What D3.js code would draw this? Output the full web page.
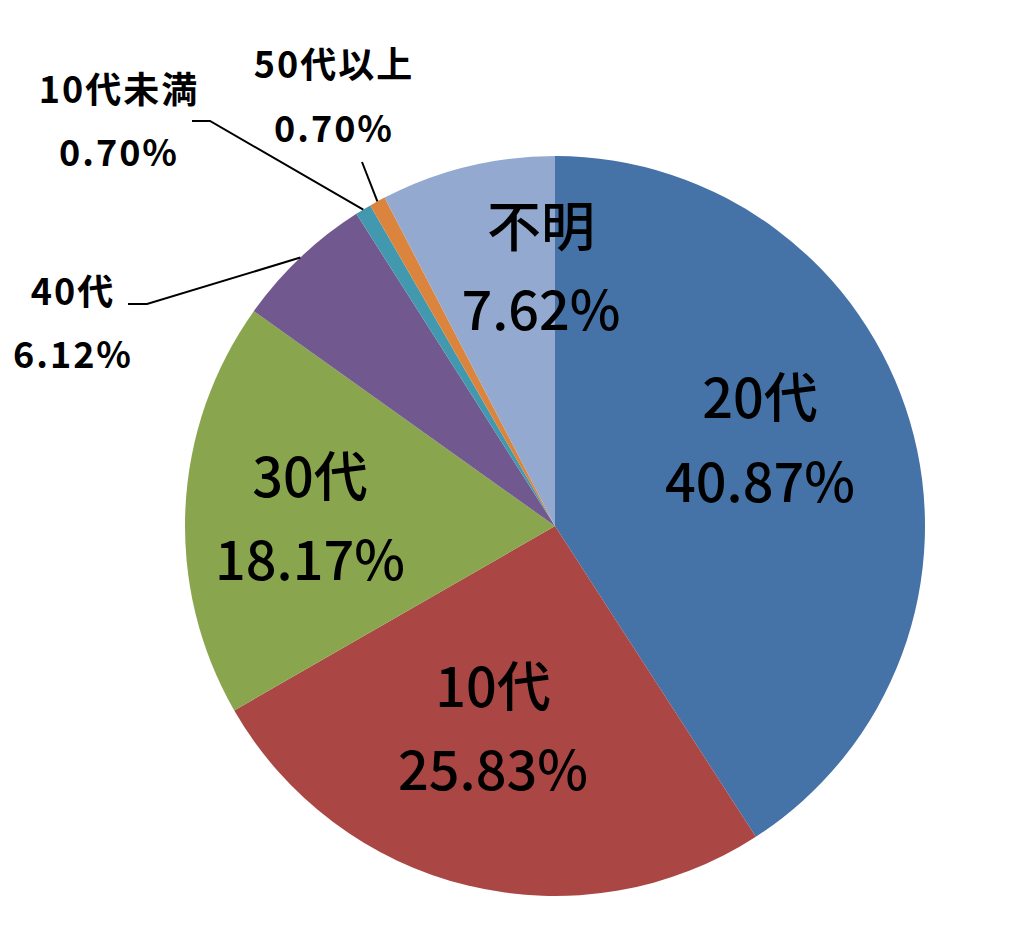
<!DOCTYPE html>
<html><head><meta charset="utf-8">
<script src="https://cdn.jsdelivr.net/npm/d3@7/dist/d3.min.js"></script>
<style>
html,body{margin:0;padding:0;background:#fff;}
text{font-family:"Noto Sans CJK JP","Noto Sans",sans-serif;fill:#000;}
</style></head>
<body>
<svg id="chart" width="1024" height="943"></svg>
<script>
const categories = ["20代","10代","30代","40代","10代未満","50代以上","不明"];
const values = [40.87, 25.83, 18.17, 6.12, 0.70, 0.70, 7.62];
const valueLabels = ["40.87%","25.83%","18.17%","6.12%","0.70%","0.70%","7.62%"];
const colors = ["#4572A7","#AA4643","#89A54E","#71588F","#4198AF","#DB843D","#93A9CF"];

// label layout: inside labels (big) and outside labels (small with leader)
const labelLayout = [
  {x:760, y1:418, y2:502, big:true},
  {x:493, y1:707, y2:790, big:true},
  {x:310, y1:497, y2:580, big:true},
  {x:72,  y1:305, y2:368, big:false, leader:[[128,304],[147,304]]},
  {x:118, y1:103, y2:166, big:false, leader:[[192,121],[210,121]]},
  {x:333, y1:78,  y2:142, big:false, leader:[[362,162]]},
  {x:541, y1:247, y2:330, big:true}
];

const svg = d3.select("#chart");
const cx = 555, cy = 526, r = 370;
const g = svg.append("g").attr("transform", `translate(${cx},${cy})`);

const data = categories.map((c,i)=>({cat:c, value:values[i], label:valueLabels[i], color:colors[i], layout:labelLayout[i]}));
const pie = d3.pie().sort(null).value(d=>d.value).startAngle(0).endAngle(2*Math.PI);
const arc = d3.arc().innerRadius(0).outerRadius(r);
const arcs = pie(data);

g.selectAll("path.slice").data(arcs).join("path")
  .attr("class","slice")
  .attr("d", arc)
  .attr("fill", d=>d.data.color);

// leader lines
const edge = d => {
  const a = (d.startAngle + d.endAngle)/2;
  return [cx + r*Math.sin(a), cy - r*Math.cos(a)];
};
arcs.filter(d=>d.data.layout.leader).forEach(d=>{
  const pts = d.data.layout.leader.concat([edge(d)]);
  svg.append("path")
    .attr("d", d3.line()(pts))
    .attr("fill","none").attr("stroke","#000").attr("stroke-width",2);
});

// labels
arcs.forEach(d=>{
  const L = d.data.layout;
  const t = svg.append("g").attr("text-anchor","middle");
  [[L.y1, d.data.cat],[L.y2, d.data.label]].forEach(([y,txt])=>{
    t.append("text").attr("x",L.x + (L.big?0:1)).attr("y",y)
      .attr("font-size", L.big?54:36).attr("font-weight", L.big?500:700)
      .attr("letter-spacing", L.big?0:2)
      .text(txt);
  });
});
</script>
</body></html>
